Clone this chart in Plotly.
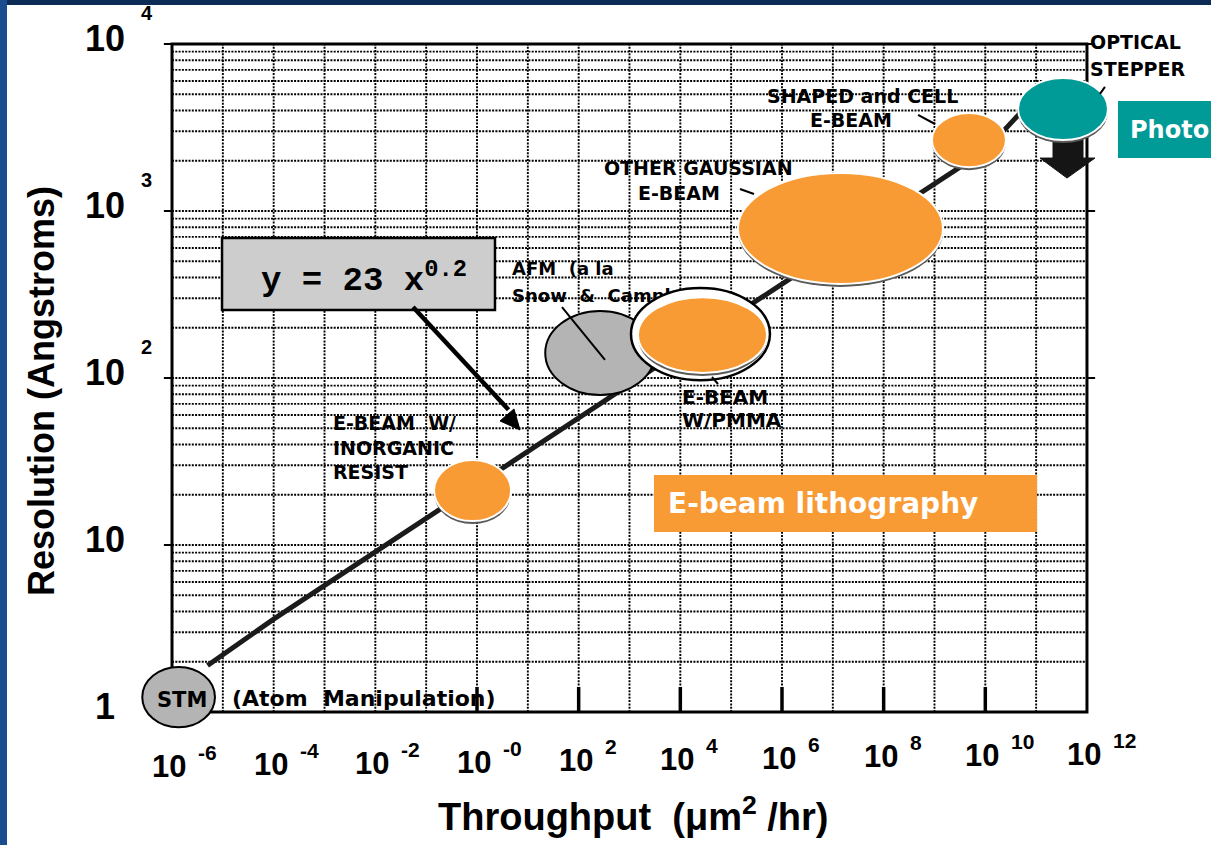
import plotly.graph_objects as go

# ---------------- data ----------------
tech_names = ["STM", "AFM", "E-beam PMMA (original)", "E-beam w/ inorganic resist",
              "E-beam w/ PMMA", "Other Gaussian e-beam", "Shaped and cell e-beam", "Optical stepper"]
throughput_lo = [2.6e-7, 22, 1.07e3, 0.143, 1.47e3, 1.36e5, 8.9e8, 4.4e10]      # um^2/hr
throughput_hi = [7.0e-6, 3.18e3, 5.8e5, 4.67, 5.07e5, 1.47e9, 2.55e10, 2.59e12]
resolution_lo = [0.81, 79, 97, 13.9, 107, 366, 1830, 2660]                        # Angstrom
resolution_hi = [1.86, 252, 346, 32.3, 305, 1690, 3860, 6250]

# trend line  y = 23 x^0.2 as drawn on the chart
trend_throughput = [5e-6, 1e-4, 1e-2, 1, 1e2, 1e4, 1e6, 1e8, 1e10, 5e10]
trend_resolution = [1.9, 3.6, 9.1, 23, 58, 145, 365, 920, 2300, 3900]

x_tick_exponents = [-6, -4, -2, 0, 2, 4, 6, 8, 10, 12]
x_tick_sup = ["-6", "-4", "-2", "-0", "2", "4", "6", "8", "10", "12"]
y_tick_exponents = [0, 1, 2, 3, 4]
y_tick_base = ["1", "10", "10", "10", "10"]
y_tick_sup = ["", "", "2", "3", "4"]

# ---------------- styles ----------------
W, H = 1211, 845
ORANGE = "#F99B35"
TEAL = "#009A97"
GRAY = "#b4b4b4"
NB = "\u00a0"
ell_fill = [GRAY, GRAY, "white", ORANGE, ORANGE, ORANGE, ORANGE, TEAL]
ell_line = ["black", "black", "black", "white", "white", "white", "white", "white"]
ell_lw = [2, 2, 2.5, 2, 2, 2, 2, 2]
ell_shadow = [False, False, False, True, True, True, True, True]

X_RANGE = [-9.384, 14.44]     # log10 units
Y_RANGE = [-0.7964, 4.2635]
AX_FONT = "Liberation Sans, Arial, sans-serif"
LB_FONT = "DejaVu Sans, Verdana, sans-serif"

fig = go.Figure()

# trend line
fig.add_trace(go.Scatter(x=trend_throughput, y=trend_resolution, mode="lines",
                         line=dict(color="#1b1b1b", width=5),
                         hoverinfo="skip", showlegend=False))

# in-plot labels (scatter text so the ellipses can cover them), positions in log10 units
labels = [
    ("OPTICAL", 12.06, 3.997, 19),
    ("STEPPER", 12.06, 3.838, 19),
    ("SHAPED and CELL", 5.705, 3.674, 19),
    ("E-BEAM", 6.551, 3.530, 19),
    ("OTHER GAUSSIAN", 2.498, 3.246, 19),
    ("E-BEAM", 3.167, 3.096, 19),
    ("AFM" + NB * 2 + "(a" + NB + "la", 0.689, 2.641, 18),
    ("Snow" + NB * 2 + "&" + NB * 2 + "Campbell)", 0.689, 2.485, 18),
    ("E-BEAM", 4.033, 1.874, 20),
    ("W/PMMA", 4.033, 1.737, 20),
    ("E-BEAM" + NB * 2 + "W/", -2.833, 1.719, 19),
    ("INORGANIC", -2.833, 1.569, 19),
    ("RESIST", -2.833, 1.425, 19),
    ("(Atom" + NB * 2 + "Manipulation)", -4.82, 0.066, 22),
]
for txt, lx, ly, fs in labels:
    fig.add_trace(go.Scatter(x=[10 ** lx], y=[10 ** ly], mode="text", text=[txt],
                             textposition="middle right",
                             textfont=dict(family=LB_FONT, size=fs, color="black", weight="bold"),
                             hoverinfo="skip", showlegend=False))

shapes = []
GRID = dict(color="black", width=1.9, dash="2px,1.3px")
for e in range(-5, 12):
    shapes.append(dict(type="line", xref="x", yref="y", x0=10 ** e, x1=10 ** e, y0=1, y1=1e4,
                       line=GRID, layer="below"))
for k in range(0, 4):
    for m in range(1, 10):
        v = m * 10 ** k
        if v == 1:
            continue
        shapes.append(dict(type="line", xref="x", yref="y", x0=1e-6, x1=1e12, y0=v, y1=v,
                           line=GRID, layer="below"))
# frame
shapes.append(dict(type="rect", xref="x", yref="y", x0=1e-6, x1=1e12, y0=1, y1=1e4,
                   line=dict(color="black", width=3), fillcolor="rgba(0,0,0,0)", layer="below"))
# bold x ticks
for e in range(0, 11, 2):
    shapes.append(dict(type="line", xref="x", yref="y", x0=10 ** e, x1=10 ** e, y0=1, y1=10 ** 0.15,
                       line=dict(color="black", width=3.5), layer="below"))
# y major ticks
for k in range(1, 5):
    shapes.append(dict(type="line", xref="x", yref="y", x0=10 ** -6.16, x1=1e-6, y0=10 ** k, y1=10 ** k,
                       line=dict(color="black", width=2), layer="below"))
for k in range(2, 5):
    shapes.append(dict(type="line", xref="x", yref="y", x0=1e12, x1=10 ** 12.16, y0=10 ** k, y1=10 ** k,
                       line=dict(color="black", width=2), layer="below"))

# equation box
shapes.append(dict(type="rect", xref="x", yref="y", x0=10 ** -5.016, x1=10 ** 0.354,
                   y0=10 ** 2.407, y1=10 ** 2.838, fillcolor="#cdcdcd",
                   line=dict(color="black", width=2.5), layer="above"))
# arrow from the equation box to the trend line (shaft + head)
shapes.append(dict(type="line", xref="x", yref="y", x0=10 ** -1.259, y0=10 ** 2.425,
                   x1=10 ** 0.62, y1=10 ** 1.81, line=dict(color="black", width=4.5), layer="above"))
shapes.append(dict(type="path", xref="x", yref="y", xsizemode="pixel", ysizemode="pixel",
                   xanchor=10 ** 0.846, yanchor=10 ** 1.689,
                   path="M 0 0 L -6 21 L -20 9 Z",
                   fillcolor="black", line=dict(color="black", width=1), layer="above"))
# arrow under the optical stepper
shapes.append(dict(type="path", xref="x", yref="y", xsizemode="pixel", ysizemode="pixel",
                   xanchor=10 ** 11.607, yanchor=resolution_lo[7],
                   path="M -14 4 L 16 4 L 16 -18 L 28 -18 L 0 -38 L -27 -18 L -14 -18 Z",
                   fillcolor="#151515", line=dict(color="#151515", width=1), layer="above"))
# technology ellipses
for i in range(len(tech_names)):
    if ell_shadow[i]:
        f = 10 ** (-3 / 167)
        shapes.append(dict(type="circle", xref="x", yref="y",
                           x0=throughput_lo[i], x1=throughput_hi[i],
                           y0=resolution_lo[i] * f, y1=resolution_hi[i] * f,
                           fillcolor="#5a5a5a", line=dict(width=0), layer="above"))
    shapes.append(dict(type="circle", xref="x", yref="y",
                       x0=throughput_lo[i], x1=throughput_hi[i],
                       y0=resolution_lo[i], y1=resolution_hi[i],
                       fillcolor=ell_fill[i], line=dict(color=ell_line[i], width=ell_lw[i]),
                       layer="above"))
# leader lines
leaders = [((12.354, 3.743), (12.256, 3.701)),
           ((8.676, 3.575), (9.010, 3.521)),
           ((5.174, 3.132), (5.449, 3.102)),
           ((1.672, 2.425), (2.518, 2.108)),
           ((4.623, 2.006), (4.741, 1.964))]
for (ax0, ay0), (ax1, ay1) in leaders:
    shapes.append(dict(type="line", xref="x", yref="y", x0=10 ** ax0, x1=10 ** ax1,
                       y0=10 ** ay0, y1=10 ** ay1, line=dict(color="black", width=2), layer="above"))
# coloured slide boxes
shapes.append(dict(type="rect", xref="x", yref="y", x0=10 ** 3.482, x1=10 ** 11.017,
                   y0=10 ** 1.078, y1=10 ** 1.419, fillcolor=ORANGE, line=dict(width=0), layer="above"))
shapes.append(dict(type="rect", xref="x", yref="y", x0=10 ** 12.61, x1=10 ** 14.6,
                   y0=10 ** 3.317, y1=10 ** 3.659, fillcolor=TEAL, line=dict(width=0), layer="above"))
# slide border
shapes.append(dict(type="rect", xref="paper", yref="paper", x0=0, x1=1, y0=1 - 5 / H, y1=1,
                   fillcolor="#0c2c55", line=dict(width=0), layer="above"))
shapes.append(dict(type="rect", xref="paper", yref="paper", x0=0, x1=7 / W, y0=0, y1=1,
                   fillcolor="#1b4d8e", line=dict(width=0), layer="above"))

ann = []
# x tick labels
for e, sup in zip(x_tick_exponents, x_tick_sup):
    drift = (e + 6) / 18 * 12
    ann.append(dict(x=e, y=0, xref="x", yref="y", text="10", showarrow=False,
                    xanchor="center", yanchor="middle", xshift=-3, yshift=-54 + drift,
                    font=dict(family=AX_FONT, size=31, color="black", weight="bold")))
    ann.append(dict(x=e, y=0, xref="x", yref="y", text=sup, showarrow=False,
                    xanchor="left", yanchor="middle", xshift=24, yshift=-40 + drift,
                    font=dict(family=AX_FONT, size=21, color="black", weight="bold")))
# y tick labels
for k, base, sup in zip(y_tick_exponents, y_tick_base, y_tick_sup):
    ann.append(dict(x=-6, y=k, xref="x", yref="y", text=base, showarrow=False,
                    xanchor="center", yanchor="middle", xshift=-67, yshift=6,
                    font=dict(family=AX_FONT, size=36, color="black", weight="bold")))
    if sup:
        ann.append(dict(x=-6, y=k, xref="x", yref="y", text=sup, showarrow=False,
                        xanchor="left", yanchor="middle", xshift=-33, yshift=31,
                        font=dict(family=AX_FONT, size=20, color="black", weight="bold")))
# axis titles
ann.append(dict(x=41 / W, y=1 - 391 / H, xref="paper", yref="paper", text="Resolution (Angstroms)",
                textangle=-90, showarrow=False, xanchor="center", yanchor="middle",
                font=dict(family=AX_FONT, size=36, color="black", weight="bold")))
ann.append(dict(x=634 / W, y=1 - 814 / H, xref="paper", yref="paper",
                text="Throughput" + NB * 2 + "(\u03bcm<sup>2</sup>" + NB + "/hr)",
                showarrow=False, xanchor="center", yanchor="middle",
                font=dict(family=AX_FONT, size=38, color="black", weight="bold")))
# STM label on its ellipse
ann.append(dict(x=-5.803, y=0.072, xref="x", yref="y", text="STM", showarrow=False,
                xanchor="center", yanchor="middle",
                font=dict(family=LB_FONT, size=21, color="black", weight="bold")))
# equation
ann.append(dict(x=-2.223, y=2.599, xref="x", yref="y", text="y = 23 x<sup>0.2</sup>",
                showarrow=False, xanchor="center", yanchor="middle",
                font=dict(family="Liberation Mono, Courier New, monospace", size=34,
                          color="black", weight="bold")))
# slide box texts
ann.append(dict(x=3.718, y=1.249, xref="x", yref="y", text="E-beam lithography", showarrow=False,
                xanchor="left", yanchor="middle",
                font=dict(family=LB_FONT, size=28, color="white", weight="bold")))
ann.append(dict(x=12.80, y=3.488, xref="x", yref="y", text="Photo", showarrow=False,
                xanchor="left", yanchor="middle",
                font=dict(family=LB_FONT, size=24, color="white", weight="bold")))

fig.update_layout(
    width=W, height=H, margin=dict(l=0, r=0, t=0, b=0),
    paper_bgcolor="white", plot_bgcolor="white",
    xaxis=dict(type="log", range=X_RANGE, visible=False, domain=[0, 1]),
    yaxis=dict(type="log", range=Y_RANGE, visible=False, domain=[0, 1]),
    shapes=shapes, annotations=ann, showlegend=False,
)

fig.write_html("out.html", config={"displayModeBar": False},
               post_script="document.body.style.margin='0px';document.body.style.overflow='hidden';")
